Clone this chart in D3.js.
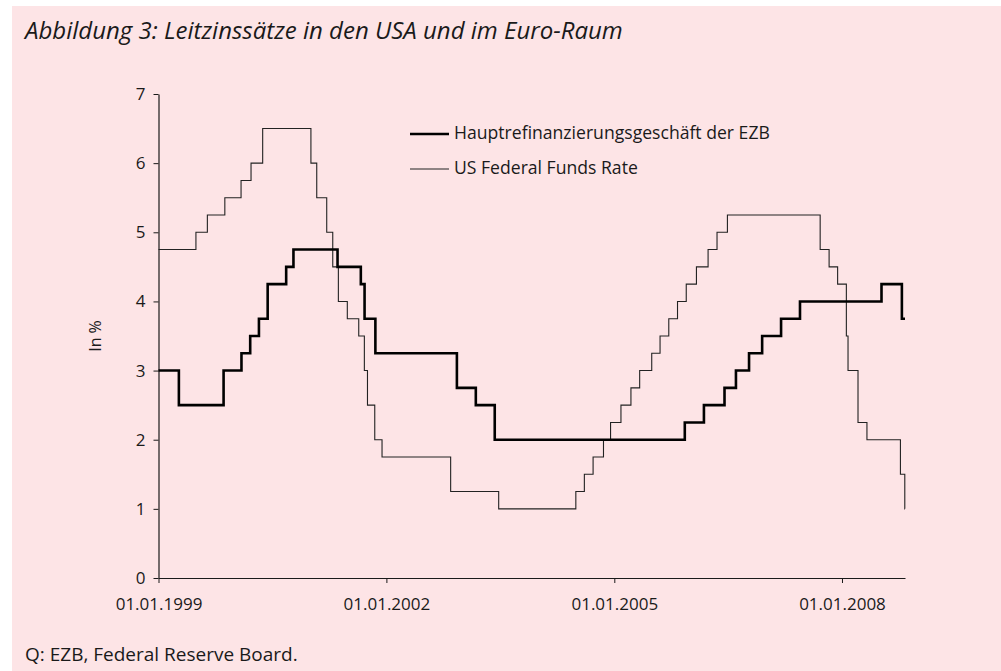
<!DOCTYPE html>
<html>
<head>
<meta charset="utf-8">
<script src="https://cdn.jsdelivr.net/npm/d3@7"></script>
<style>
  body { margin: 0; background: #ffffff; }
  svg { display: block; }
  text { font-family: "Open Sans", sans-serif; fill: #1a1a1a; }
</style>
</head>
<body>
<div id="chart"></div>
<script>
// Leitzinsen: Datum der Änderung und neuer Satz (in %)
const ecbDates = [
  "1999-01-01", "1999-04-09", "1999-11-10", "2000-02-04", "2000-03-17",
  "2000-04-28", "2000-06-09", "2000-09-06", "2000-10-11", "2001-05-11",
  "2001-08-31", "2001-09-18", "2001-11-09", "2002-12-06", "2003-03-07",
  "2003-06-06", "2005-12-06", "2006-03-08", "2006-06-15", "2006-08-09",
  "2006-10-11", "2006-12-13", "2007-03-14", "2007-06-13", "2008-07-09",
  "2008-10-15", "2008-10-30"
];
const ecbRates = [
  3.0, 2.5, 3.0, 3.25, 3.5,
  3.75, 4.25, 4.5, 4.75, 4.5,
  4.25, 3.75, 3.25, 2.75, 2.5,
  2.0, 2.25, 2.5, 2.75, 3.0,
  3.25, 3.5, 3.75, 4.0, 4.25,
  3.75, 3.75
];

const fedDates = [
  "1999-01-01", "1999-06-30", "1999-08-24", "1999-11-16", "2000-02-02",
  "2000-03-21", "2000-05-16", "2001-01-03", "2001-01-31", "2001-03-20",
  "2001-04-18", "2001-05-15", "2001-06-27", "2001-08-21", "2001-09-17",
  "2001-10-02", "2001-11-06", "2001-12-11", "2002-11-06", "2003-06-25",
  "2004-06-30", "2004-08-10", "2004-09-21", "2004-11-10", "2004-12-14",
  "2005-02-02", "2005-03-22", "2005-05-03", "2005-06-30", "2005-08-09",
  "2005-09-20", "2005-11-01", "2005-12-13", "2006-01-31", "2006-03-28",
  "2006-05-10", "2006-06-29", "2007-09-18", "2007-10-31", "2007-12-11",
  "2008-01-22", "2008-01-30", "2008-03-18", "2008-04-30", "2008-10-08",
  "2008-10-29", "2008-10-30"
];
const fedRates = [
  4.75, 5.0, 5.25, 5.5, 5.75,
  6.0, 6.5, 6.0, 5.5, 5.0,
  4.5, 4.0, 3.75, 3.5, 3.0,
  2.5, 2.0, 1.75, 1.25, 1.0,
  1.25, 1.5, 1.75, 2.0, 2.25,
  2.5, 2.75, 3.0, 3.25, 3.5,
  3.75, 4.0, 4.25, 4.5, 4.75,
  5.0, 5.25, 4.75, 4.5, 4.25,
  3.5, 3.0, 2.25, 2.0, 1.5,
  1.0, 1.0
];

const xTickDates = ["1999-01-01", "2002-01-01", "2005-01-01", "2008-01-01"];
const yTicks = [0, 1, 2, 3, 4, 5, 6, 7];
const seriesNames = ["Hauptrefinanzierungsgeschäft der EZB", "US Federal Funds Rate"];

const titleText = "Abbildung 3: Leitzinssätze in den USA und im Euro-Raum";
const sourceText = "Q: EZB, Federal Reserve Board.";
const yLabel = "In %";

const parseDate = d3.timeParse("%Y-%m-%d");
const ecb = ecbDates.map((d, i) => ({ date: parseDate(d), value: ecbRates[i] }));
const fed = fedDates.map((d, i) => ({ date: parseDate(d), value: fedRates[i] }));

const W = 1001, H = 671;
const plot = { left: 158.5, right: 905, top: 94, bottom: 578 };

const svg = d3.select("#chart")
  .append("svg")
  .attr("width", W)
  .attr("height", H);

// pinker Hintergrundkasten
svg.append("rect")
  .attr("x", 12)
  .attr("y", 6)
  .attr("width", W - 12)
  .attr("height", H - 6)
  .attr("fill", "#fde4e6");

svg.append("text")
  .attr("x", 25)
  .attr("y", 39)
  .attr("font-size", "24px")
  .attr("font-style", "italic")
  .text(titleText);

const x = d3.scaleTime()
  .domain([ecb[0].date, ecb[ecb.length - 1].date])
  .range([plot.left, plot.right]);

const y = d3.scaleLinear()
  .domain([0, 7])
  .range([plot.bottom, plot.top]);

// Achsen
const yAxis = svg.append("g")
  .attr("transform", `translate(${plot.left},0)`)
  .call(d3.axisLeft(y).tickValues(yTicks).tickSize(5).tickSizeOuter(0).tickPadding(8).tickFormat(d3.format("d")));

const xAxis = svg.append("g")
  .attr("transform", `translate(0,${plot.bottom})`)
  .call(d3.axisBottom(x).tickValues(xTickDates.map(parseDate)).tickSize(5).tickSizeOuter(0).tickPadding(15).tickFormat(d3.timeFormat("%d.%m.%Y")));

[yAxis, xAxis].forEach(g => {
  g.select(".domain").attr("stroke", "#1a1a1a").attr("stroke-width", 1.2);
  g.selectAll(".tick line").attr("stroke", "#1a1a1a").attr("stroke-width", 1);
  g.selectAll(".tick text")
    .attr("fill", "#1a1a1a")
    .attr("font-size", "17px")
    .attr("font-family", "'Open Sans', sans-serif");
});

svg.append("text")
  .attr("transform", `translate(97,${(plot.top + plot.bottom) / 2}) rotate(-90)`)
  .attr("text-anchor", "middle")
  .attr("dominant-baseline", "middle")
  .attr("font-size", "16px")
  .text(yLabel);

// Treppenlinien
const stepLine = d3.line()
  .x(d => x(d.date))
  .y(d => y(d.value))
  .curve(d3.curveStepAfter);

svg.append("path")
  .datum(fed)
  .attr("fill", "none")
  .attr("stroke", "#222222")
  .attr("stroke-width", 1.1)
  .attr("d", stepLine);

svg.append("path")
  .datum(ecb)
  .attr("fill", "none")
  .attr("stroke", "#000000")
  .attr("stroke-width", 2.6)
  .attr("d", stepLine);

// Legende
const legendX = 410;
const legendY = 134;
const legendStyles = [
  { width: 2.6, color: "#000000" },
  { width: 1.1, color: "#222222" }
];

seriesNames.forEach((name, i) => {
  const ly = legendY + i * 35;
  svg.append("line")
    .attr("x1", legendX)
    .attr("x2", legendX + 39)
    .attr("y1", ly)
    .attr("y2", ly)
    .attr("stroke", legendStyles[i].color)
    .attr("stroke-width", legendStyles[i].width);
  svg.append("text")
    .attr("x", legendX + 44)
    .attr("y", ly)
    .attr("dominant-baseline", "middle")
    .attr("font-size", "17.6px")
    .text(name);
});

svg.append("text")
  .attr("x", 25)
  .attr("y", 661)
  .attr("font-size", "19px")
  .text(sourceText);
</script>
</body>
</html>
